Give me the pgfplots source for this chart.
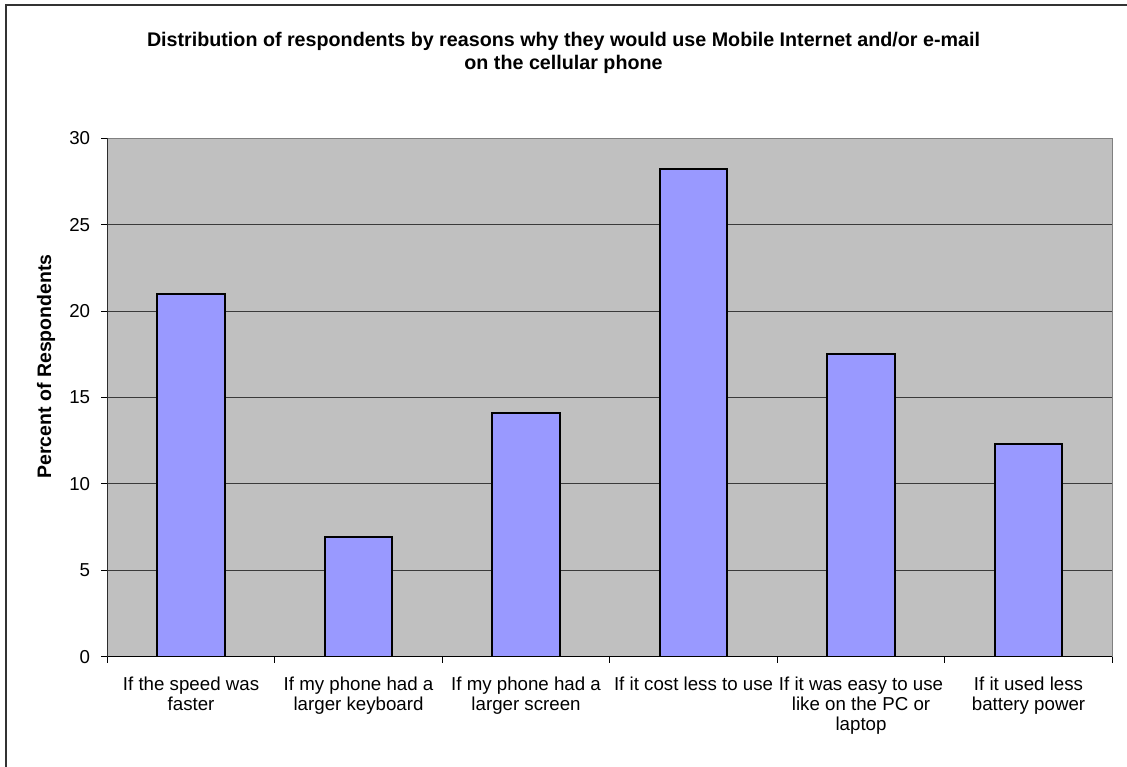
\documentclass[border=0pt]{standalone}
\usepackage{pgfplots}
\pgfplotsset{compat=1.18}
\usepackage{fontspec}
\setmainfont{Liberation Sans}
\definecolor{plotbg}{HTML}{C0C0C0}
\definecolor{barfill}{HTML}{9999FF}
\definecolor{framegray}{HTML}{333333}
\definecolor{gridgray}{HTML}{3A3A3A}
\begin{document}
\begin{tikzpicture}[x=1pt,y=1pt]
\useasboundingbox (0,0) rectangle (1127,767);
\fill[white] (0,0) rectangle (1127,767);
% chart frame (left and top edges)
\draw[line width=2pt, framegray] (6,0) -- (6,762) -- (1127,762);
\node[font=\bfseries\fontsize{19.7}{23}\selectfont, align=center] at (563.5,714.5)
  {Distribution of respondents by reasons why they would use Mobile Internet and/or e-mail\\on the cellular phone};
\begin{axis}[
  at={(107.3pt,110.3pt)}, anchor=south west,
  scale only axis, width=1005pt, height=518.4pt,
  xmin=-0.5, xmax=5.5, ymin=0, ymax=30,
  ytick={0,5,10,15,20,25,30},
  xtick={-0.5,0.5,1.5,2.5,3.5,4.5,5.5},
  x tick label as interval,
  xticklabels={{If the speed was\\faster},{If my phone had a\\larger keyboard},{If my phone had a\\larger screen},{If it cost less to use},{If it was easy to use\\like on the PC or\\laptop},{If it used less\\battery power}},
  xtick pos=lower, ytick pos=left,
  tick align=outside, major tick length=6pt,
  tick style={black, line width=1pt},
  ymajorgrids, major grid style={gridgray, line width=1pt},
  axis background/.style={fill=plotbg},
  axis line style={draw=gray, line width=1pt},
  tick label style={font=\fontsize{18.7}{20}\selectfont},
  /pgf/number format/assume math mode=true,
  yticklabel style={inner sep=0pt, xshift=-11pt},
  xticklabel style={align=center, anchor=north, inner sep=0pt, yshift=-14pt},
  ylabel={Percent of Respondents},
  ylabel style={at={(axis description cs:-0.061,0.56)}, anchor=center, font=\bfseries\fontsize{19.5}{20}\selectfont},
]
\addplot[ybar, bar width=67.5pt, fill=barfill, draw=black, line width=2pt]
  coordinates {(0,21.0) (1,6.9) (2,14.1) (3,28.2) (4,17.5) (5,12.3)};
\draw[black, line width=1pt] (rel axis cs:0,1) -- (rel axis cs:0,0) -- (rel axis cs:1,0);
\end{axis}
\end{tikzpicture}
\end{document}
